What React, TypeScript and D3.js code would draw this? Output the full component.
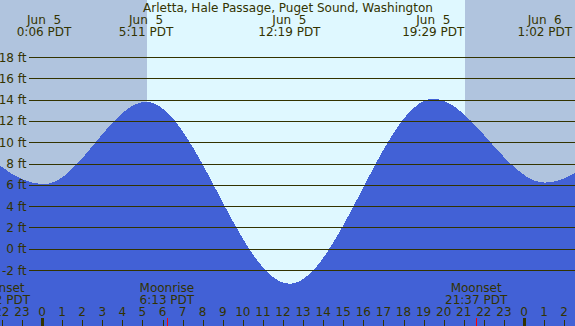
import React from "react";
import * as d3 from "d3";

const W = 575;
const H = 326;

const title = "Arletta, Hale Passage, Puget Sound, Washington";

// Tide extremes (hours relative to Jun 5 00:00 PDT), heights in ft
const tideHours = [-5.1, 0.1, 5.183, 12.317, 19.483, 25.033, 30.1];
const tideHeights = [13.7, 6.05, 13.8, -3.3, 14.1, 6.2, 14.0];

// Labels for visible extremes
const extremeHours = [0.1, 5.183, 12.317, 19.483, 25.033];
const extremeDates = ["Jun  5", "Jun  5", "Jun  5", "Jun  5", "Jun  6"];
const extremeTimes = ["0:06 PDT", "5:11 PDT", "12:19 PDT", "19:29 PDT", "1:02 PDT"];

// Sun
const sunriseHour = 5.22;
const sunsetHour = 21.07;

// Moon events
const moonHours = [-2.14, 6.217, 21.617];
const moonNames = ["Moonset", "Moonrise", "Moonset"];
const moonTimes = ["21:52 PDT", "6:13 PDT", "21:37 PDT"];

// Axes
const ftTicks = [-2, 0, 2, 4, 6, 8, 10, 12, 14, 16, 18];
const hourTicks = d3.range(-2, 27);

const NIGHT = "#b0c4de";
const DAY = "#dff8ff";
const WATER = "#4261d6";
const INK = "#333300";
const FONT = "'DejaVu Sans', Verdana, sans-serif";
const FS = 12;

export default function App() {
  const x = d3.scaleLinear().domain([0, 24]).range([42, 524]);
  const y = d3.scaleLinear().domain([-2, 18]).range([270, 57]);

  const area = d3
    .area<number>()
    .x((_, i) => x(tideHours[i]))
    .y0(H)
    .y1((d) => y(d))
    .curve(d3.curveMonotoneX);

  const hourLabel = (h: number) => String(((h % 24) + 24) % 24);

  return (
    <svg
      width={W}
      height={H}
      style={{ position: "absolute", left: 0, top: 0, display: "block" }}
      fontFamily={FONT}
      fontSize={FS}
    >
      <rect x={0} y={0} width={W} height={H} fill={NIGHT} />
      <rect
        x={x(sunriseHour)}
        y={0}
        width={x(sunsetHour) - x(sunriseHour)}
        height={H}
        fill={DAY}
        shapeRendering="crispEdges"
      />
      <path d={area(tideHeights) || ""} fill={WATER} shapeRendering="crispEdges" />

      {ftTicks.map((t) => (
        <g key={t}>
          <line
            x1={29}
            x2={W}
            y1={Math.round(y(t)) + 0.5}
            y2={Math.round(y(t)) + 0.5}
            stroke={INK}
            strokeWidth={1}
            shapeRendering="crispEdges"
          />
          <text x={26.5} y={y(t) + 4.5} textAnchor="end" fill={INK}>
            {t} ft
          </text>
        </g>
      ))}

      <text x={288} y={11.5} textAnchor="middle" fill={INK}>
        {title}
      </text>

      {extremeHours.map((h, i) => (
        <g key={i}>
          <text x={x(h)} y={23.5} textAnchor="middle" fill={INK} style={{ whiteSpace: "pre" }}>
            {extremeDates[i]}
          </text>
          <text x={x(h)} y={35.5} textAnchor="middle" fill={INK}>
            {extremeTimes[i]}
          </text>
        </g>
      ))}

      {moonHours.map((h, i) => (
        <g key={i}>
          <text x={x(h)} y={291.5} textAnchor="middle" fill={INK}>
            {moonNames[i]}
          </text>
          <text x={x(h)} y={303.5} textAnchor="middle" fill={INK}>
            {moonTimes[i]}
          </text>
          <line
            x1={Math.round(x(h)) + 0.5}
            x2={Math.round(x(h)) + 0.5}
            y1={318}
            y2={H}
            stroke="#ff0000"
            strokeWidth={1}
            shapeRendering="crispEdges"
          />
        </g>
      ))}

      {hourTicks.map((h) => {
        const mid = ((h % 24) + 24) % 24 === 0;
        const px = Math.round(x(h));
        return (
          <g key={h}>
            <text x={x(h)} y={315.5} textAnchor="middle" fill={INK}>
              {hourLabel(h)}
            </text>
            {mid ? (
              <rect x={px - 1} y={318} width={3} height={H - 318} fill={INK} shapeRendering="crispEdges" />
            ) : (
              <line
                x1={px + 0.5}
                x2={px + 0.5}
                y1={319.5}
                y2={H}
                stroke={INK}
                strokeWidth={1}
                shapeRendering="crispEdges"
              />
            )}
          </g>
        );
      })}
    </svg>
  );
}
